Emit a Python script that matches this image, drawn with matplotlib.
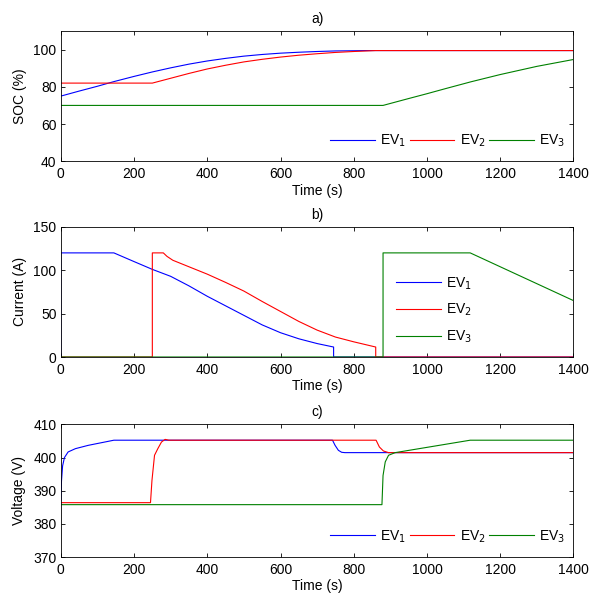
import matplotlib
matplotlib.use("Agg")
import matplotlib.pyplot as plt

plt.rcParams["font.family"] = ["Liberation Sans", "DejaVu Sans"]
plt.rcParams["font.size"] = 10

# SOC (%) vs time (s)
soc1_t = [0, 50, 100, 145, 200, 250, 300, 350, 400, 450, 500, 550, 600, 650, 700, 750, 800, 830, 1400]
soc1_v = [75, 77.7, 80.3, 82.8, 85.6, 88.0, 90.2, 92.2, 93.9, 95.3, 96.5, 97.4, 98.1, 98.6, 99.0, 99.3, 99.4, 99.5, 99.5]
soc2_t = [0, 250, 300, 350, 400, 450, 500, 550, 600, 650, 700, 750, 800, 860, 1400]
soc2_v = [82, 82, 84.6, 87.2, 89.6, 91.6, 93.4, 94.8, 96.0, 97.0, 97.8, 98.5, 99.0, 99.5, 99.5]
soc3_t = [0, 880, 950, 1000, 1050, 1120, 1200, 1300, 1400]
soc3_v = [70, 70, 73.7, 76.3, 79.0, 82.7, 86.6, 91.0, 94.7]

# Current (A) vs time (s)
cur1_t = [0, 0, 145, 200, 250, 300, 350, 400, 450, 500, 550, 600, 650, 700, 745, 745, 1400]
cur1_v = [0, 120, 120, 110, 101, 93, 82, 70, 59, 48, 37, 28, 21, 15.5, 11.5, 0, 0]
cur2_t = [0, 250, 250, 280, 290, 306, 350, 400, 450, 500, 550, 600, 650, 700, 750, 800, 860, 860, 1400]
cur2_v = [0, 0, 120, 120, 116, 111.5, 104, 95.5, 86, 76, 64, 52.5, 41, 31, 23, 17.5, 11.5, 0, 0]
cur3_t = [0, 880, 880, 1118, 1400]
cur3_v = [0, 0, 120, 120, 65]

# Voltage (V) vs time (s)
vol1_t = [0, 2, 5, 10, 20, 40, 75, 145, 742, 749, 758, 767, 776, 1400]
vol1_v = [387, 393, 397.5, 400, 401.7, 402.7, 403.7, 405.25, 405.25, 403.7, 402.2, 401.6, 401.5, 401.5]
vol2_t = [0, 245, 249, 256, 265, 275, 285, 295, 861, 870, 881, 895, 1400]
vol2_v = [386.4, 386.4, 393.1, 400.7, 402.7, 404.7, 405.5, 405.25, 405.25, 403.2, 402, 401.5, 401.5]
vol3_t = [0, 877, 880, 886, 895, 913, 1118, 1400]
vol3_v = [385.8, 385.8, 394.6, 398.7, 400.7, 401.5, 405.25, 405.25]

labels = ["EV$_1$", "EV$_2$", "EV$_3$"]
colors = ["#0000ff", "#ff0000", "#008000"]

fig = plt.figure(figsize=(5.9, 5.97), dpi=100)
ax_a = fig.add_axes([0.103, 0.730, 0.869, 0.218])
ax_b = fig.add_axes([0.103, 0.402, 0.869, 0.218])
ax_c = fig.add_axes([0.103, 0.067, 0.869, 0.222])

panels = [
    (ax_a, [(soc1_t, soc1_v), (soc2_t, soc2_v), (soc3_t, soc3_v)], "SOC (%)", (40, 110), [40, 60, 80, 100], "a)"),
    (ax_b, [(cur1_t, cur1_v), (cur2_t, cur2_v), (cur3_t, cur3_v)], "Current (A)", (0, 150), [0, 50, 100, 150], "b)"),
    (ax_c, [(vol1_t, vol1_v), (vol2_t, vol2_v), (vol3_t, vol3_v)], "Voltage (V)", (370, 410), [370, 380, 390, 400, 410], "c)"),
]

for ax, series, ylabel, ylim, yticks, title in panels:
    for (t, v), lab, col in zip(series, labels, colors):
        ax.plot(t, v, color=col, linewidth=0.8, label=lab)
    ax.set_xlim(0, 1400)
    ax.set_ylim(*ylim)
    ax.set_xticks(range(0, 1401, 200))
    ax.set_yticks(yticks)
    ax.set_xlabel("Time (s)", labelpad=2)
    ax.set_ylabel(ylabel, labelpad=5)
    ax.set_title(title, fontsize=10, pad=6)
    ax.tick_params(direction="in", top=True, right=True, length=3, width=0.6, labelsize=10)
    ax.tick_params(axis="x", pad=4)
    ax.tick_params(axis="y", pad=3)
    for s in ax.spines.values():
        s.set_linewidth(0.6)

# legends
for ax in (ax_a, ax_c):
    ax.legend(loc="lower right", bbox_to_anchor=(1.0, 0.03), ncol=3, frameon=False,
              handlelength=3.2, columnspacing=0.25, handletextpad=0.4, borderaxespad=0.2)
ax_b.legend(loc="center left", bbox_to_anchor=(0.63, 0.36), frameon=False,
            handlelength=3.2, handletextpad=0.4, labelspacing=0.75)

fig.savefig("out.png", dpi=100)
